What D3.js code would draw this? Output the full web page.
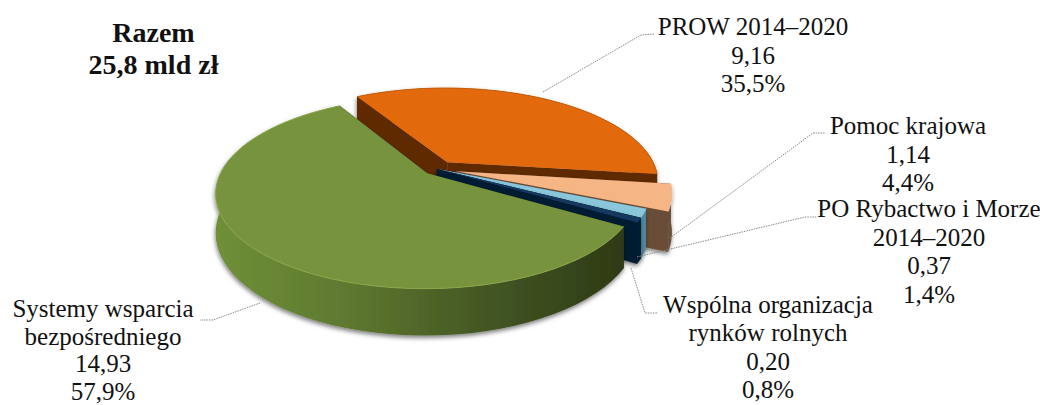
<!DOCTYPE html>
<html>
<head>
<meta charset="utf-8">
<script src="https://cdn.jsdelivr.net/npm/d3@7"></script>
<style>
  html, body { margin: 0; padding: 0; background: #fff; }
  text { font-family: "Liberation Serif", serif; fill: #111; }
</style>
</head>
<body>
<svg id="chart" width="1040" height="405"></svg>
<script>
// ── Data ────────────────────────────────────────────────────────────────────
const values = [9.16, 1.14, 0.37, 0.20, 14.93];
const shares = ['35,5%', '4,4%', '1,4%', '0,8%', '57,9%'];
const valueLabels = ['9,16', '1,14', '0,37', '0,20', '14,93'];
const labelLines = [
  ['PROW 2014–2020'],
  ['Pomoc krajowa'],
  ['PO Rybactwo i Morze', '2014–2020'],
  ['Wspólna organizacja', 'rynków rolnych'],
  ['Systemy wsparcia', 'bezpośredniego']
];
const titleLines = ['Razem', '25,8 mld zł'];

// ── Styles per slice ────────────────────────────────────────────────────────
const topColors  = ['#e26b0a', '#f6b584', '#8ac7db', '#17375e', '#77933c'];
const wallColors = ['#5f2c00', '#6a4e39', '#4f8aa0', '#021b31', 'url(#greenWall)'];
const cutColors  = ['#5f2c00', '#6a4e39', '#4f8aa0', '#021b31', '#2f3a17'];
const rimColors  = ['#c75e08', '#f9c9a2', '#a5d6e6', '#1f497d', '#8aa84c'];
const explode    = [0.09, 0.095, 0, 0, 0.065];
const radius     = [1, 1, 1, 1, 0.98];

// ── Layout: perspective disk ────────────────────────────────────────────────
const CX = 437, CY = 169, R = 209, RK = 92, DEPTH = 37, PERSP = 4.85;
const START = 329.6 * Math.PI / 180;

const project = (X, Y, Z) => {
  const s = PERSP / (PERSP - Y);
  return [CX + R * X * s, CY + (RK * Y + DEPTH * Z) * s];
};

const svg = d3.select('#chart');
const line = d3.line();

const defs = svg.append('defs');
const grad = defs.append('linearGradient').attr('id', 'greenWall')
  .attr('gradientUnits', 'userSpaceOnUse')
  .attr('x1', 214).attr('x2', 640).attr('y1', 0).attr('y2', 0);
[[0, '#6f9038'], [0.3, '#5f7a30'], [0.6, '#465a25'], [1, '#2b3614']].forEach(s =>
  grad.append('stop').attr('offset', s[0]).attr('stop-color', s[1]));

const shadow = defs.append('filter').attr('id', 'soft')
  .attr('x', '-10%').attr('y', '-10%').attr('width', '120%').attr('height', '125%');
shadow.append('feDropShadow').attr('dx', -0.5).attr('dy', 2.5).attr('stdDeviation', 2.2)
  .attr('flood-color', '#000').attr('flood-opacity', 0.5);

// ── Slices ──────────────────────────────────────────────────────────────────
const pie = d3.pie().sort(null).startAngle(START).endAngle(START + 2 * Math.PI);
const arcs = pie(values);

arcs.forEach((a, i) => {
  // d3 angles run clockwise from 12 o'clock, the disk's from 3 o'clock
  const a0 = a.startAngle - Math.PI / 2, a1 = a.endAngle - Math.PI / 2;
  const mid = (a0 + a1) / 2;
  const ox = explode[i] * Math.cos(mid), oy = explode[i] * Math.sin(mid);
  const steps = d3.range(0, 61).map(k => a0 + (a1 - a0) * k / 60);
  const rimAt = z => steps.map(t => project(ox + radius[i] * Math.cos(t), oy + radius[i] * Math.sin(t), z));
  const apexTop = project(ox, oy, 0), apexBot = project(ox, oy, 1);
  const top = rimAt(0), bot = rimAt(1);

  const g = svg.append('g').attr('filter', 'url(#soft)');

  // radial cut faces
  [[top[0], bot[0]], [top[60], bot[60]]].forEach(e => {
    g.append('path')
      .attr('d', line([apexTop, e[0], e[1], apexBot]) + 'Z')
      .attr('fill', cutColors[i]);
  });
  // outer wall
  g.append('path')
    .attr('d', line(top.concat(bot.slice().reverse())) + 'Z')
    .attr('fill', wallColors[i]);
  // top face
  g.append('path')
    .attr('d', line([apexTop].concat(top)) + 'Z')
    .attr('fill', topColors[i]);
  // bevel along the rim
  g.append('path')
    .attr('d', line(top))
    .attr('fill', 'none').attr('stroke', rimColors[i]).attr('stroke-width', 1);
});

// ── Leader lines ────────────────────────────────────────────────────────────
const leaders = [
  [[543, 92], [641, 35], [654, 34]],
  [[670, 238], [813, 133], [825, 133]],
  [[637, 257], [805, 217], [817, 217]],
  [[631, 268], [645, 313], [658, 313]],
  [[260, 303], [213, 320], [200, 320]]
];
leaders.forEach(pts => {
  svg.append('path').attr('d', line(pts))
    .attr('fill', 'none').attr('stroke', '#8a8a8a').attr('stroke-width', 1)
    .attr('stroke-dasharray', '1.5 1');
});

// ── Labels ──────────────────────────────────────────────────────────────────
const labelX = [753, 908, 929, 768, 103];
const labelY = [35, 134, 217, 313, 317];
const labelGap = [28.6, 28.6, 28.6, 28.4, 27.5]; // last one is tight against the bottom edge
const FONT = 25;

labelLines.forEach((lines, i) => {
  const rows = lines.concat([valueLabels[i], shares[i]]);
  rows.forEach((t, j) => {
    svg.append('text')
      .attr('x', labelX[i]).attr('y', labelY[i] + j * labelGap[i])
      .attr('text-anchor', 'middle').attr('font-size', FONT)
      .text(t);
  });
});

titleLines.forEach((t, j) => {
  svg.append('text')
    .attr('x', 153.5).attr('y', 42 + j * 32)
    .attr('text-anchor', 'middle').attr('font-size', 28).attr('font-weight', 700)
    .text(t);
});
</script>
</body>
</html>
